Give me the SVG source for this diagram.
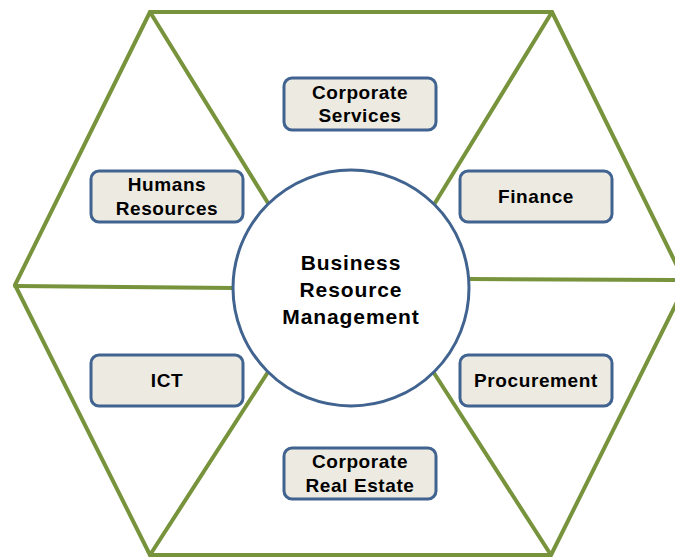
<svg xmlns="http://www.w3.org/2000/svg" width="675" height="558" viewBox="0 0 675 558">
  <style>
    .edge { stroke: #77933C; stroke-width: 4; fill: none; stroke-linejoin: round; stroke-linecap: round; }
    .box { fill: #ECEAE1; stroke: #41638F; stroke-width: 3; }
    .hub { fill: #FFFFFF; stroke: #41638F; stroke-width: 3; }
    .label { font-family: "Liberation Sans", Arial, sans-serif; font-weight: bold; font-size: 19px; letter-spacing: 0.6px; fill: #000000; text-anchor: middle; }
    .hub-label { font-family: "Liberation Sans", Arial, sans-serif; font-weight: bold; font-size: 21px; letter-spacing: 0.9px; fill: #000000; text-anchor: middle; }
  </style>
  <rect width="675" height="558" fill="#FFFFFF"/>

  <!-- hexagon frame and spokes -->
  <g id="connectors">
    <polygon class="edge" points="150,12 552,12 686,284 551,555 150,555 15,285"/>
    <line class="edge" x1="150" y1="12" x2="268" y2="203"/>
    <line class="edge" x1="552" y1="12" x2="435" y2="203"/>
    <line class="edge" x1="150" y1="555" x2="268" y2="372"/>
    <line class="edge" x1="551" y1="555" x2="434" y2="373"/>
    <line class="edge" x1="15" y1="286" x2="234" y2="288"/>
    <line class="edge" x1="468" y1="279" x2="686" y2="280"/>
  </g>

  <g id="hub">
    <circle class="hub" cx="351" cy="288" r="118"/>
    <text class="hub-label" x="351" y="270">Business</text>
    <text class="hub-label" x="351" y="297">Resource</text>
    <text class="hub-label" x="351" y="324">Management</text>
  </g>

  <g id="corporate-services">
    <rect class="box" x="284" y="78" width="152" height="52" rx="8"/>
    <text class="label" x="360" y="99">Corporate</text>
    <text class="label" x="360" y="122">Services</text>
  </g>

  <g id="humans-resources">
    <rect class="box" x="91" y="171" width="152" height="51" rx="8"/>
    <text class="label" x="167" y="191">Humans</text>
    <text class="label" x="167" y="215">Resources</text>
  </g>

  <g id="finance">
    <rect class="box" x="460" y="171" width="152" height="51" rx="8"/>
    <text class="label" x="536" y="203">Finance</text>
  </g>

  <g id="ict">
    <rect class="box" x="91" y="355" width="152" height="51" rx="8"/>
    <text class="label" x="167" y="387">ICT</text>
  </g>

  <g id="procurement">
    <rect class="box" x="460" y="355" width="152" height="51" rx="8"/>
    <text class="label" x="536" y="387">Procurement</text>
  </g>

  <g id="corporate-real-estate">
    <rect class="box" x="284" y="448" width="152" height="51" rx="8"/>
    <text class="label" x="360" y="468">Corporate</text>
    <text class="label" x="360" y="492">Real Estate</text>
  </g>
</svg>
